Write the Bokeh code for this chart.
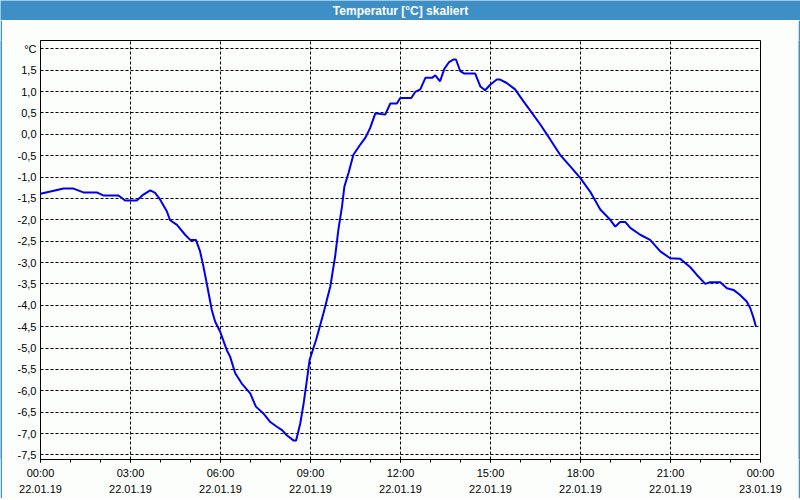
from bokeh.plotting import figure
from bokeh.models import FixedTicker
from bokeh.layouts import column, row
from bokeh.core.properties import value
from bokeh.embed import file_html
from bokeh.resources import INLINE

# --- data (hours since 22.01.19 00:00, temperature in °C) ---
hours = [0.00, 0.33, 0.77, 1.10, 1.43, 1.88, 2.09, 2.60, 2.82, 3.21, 3.43, 3.66, 3.82, 3.99,
         4.21, 4.32, 4.55, 4.82, 4.99, 5.18, 5.32, 5.43, 5.55, 5.71, 5.82, 5.99, 6.21, 6.32,
         6.49, 6.71, 6.99, 7.18, 7.43, 7.66, 7.88, 8.05, 8.21, 8.43, 8.52, 8.66, 8.77, 8.88,
         8.97, 9.19, 9.43, 9.66, 9.82, 9.93, 10.05, 10.13, 10.27, 10.43, 10.66, 10.83, 10.99,
         11.16, 11.49, 11.66, 11.88, 11.99, 12.36, 12.49, 12.66, 12.83, 13.05, 13.16, 13.32,
         13.46, 13.62, 13.77, 13.85, 13.99, 14.13, 14.49, 14.66, 14.82, 14.99, 15.21, 15.32,
         15.54, 15.82, 16.10, 16.32, 16.66, 16.99, 17.32, 17.66, 17.99, 18.32, 18.66, 18.99,
         19.16, 19.32, 19.49, 19.66, 19.99, 20.32, 20.66, 20.99, 21.32, 21.66, 21.88, 22.16,
         22.32, 22.66, 22.88, 23.10, 23.32, 23.54, 23.66, 23.77, 23.85]
temps = [-1.39, -1.34, -1.27, -1.27, -1.36, -1.36, -1.43, -1.43, -1.55, -1.55, -1.41, -1.31, -1.37, -1.53,
         -1.80, -2.01, -2.12, -2.35, -2.47, -2.47, -2.74, -3.09, -3.52, -4.11, -4.38, -4.62, -5.05, -5.20,
         -5.59, -5.83, -6.06, -6.37, -6.53, -6.73, -6.84, -6.92, -7.04, -7.16, -7.16, -6.76, -6.30, -5.75,
         -5.28, -4.80, -4.19, -3.56, -2.86, -2.23, -1.69, -1.22, -0.90, -0.48, -0.24, -0.08, 0.15,
         0.49, 0.46, 0.72, 0.72, 0.85, 0.85, 0.99, 1.05, 1.32, 1.32, 1.38, 1.24,
         1.53, 1.69, 1.75, 1.75, 1.48, 1.42, 1.42, 1.12, 1.03, 1.16, 1.28, 1.28,
         1.20, 1.05, 0.77, 0.56, 0.23, -0.12, -0.48, -0.75, -1.02, -1.34, -1.76, -2.00,
         -2.16, -2.05, -2.05, -2.19, -2.35, -2.47, -2.74, -2.90, -2.91, -3.11, -3.29, -3.50,
         -3.46, -3.46, -3.60, -3.64, -3.76, -3.91, -4.07, -4.30, -4.50]

x_ticks = [0, 3, 6, 9, 12, 15, 18, 21, 24]
x_tick_labels = ["00:00\n22.01.19", "03:00\n22.01.19", "06:00\n22.01.19", "09:00\n22.01.19",
                 "12:00\n22.01.19", "15:00\n22.01.19", "18:00\n22.01.19", "21:00\n22.01.19",
                 "00:00\n23.01.19"]
x_minor = list(range(25))
y_ticks = [2.0, 1.5, 1.0, 0.5, 0.0, -0.5, -1.0, -1.5, -2.0, -2.5, -3.0, -3.5, -4.0,
           -4.5, -5.0, -5.5, -6.0, -6.5, -7.0, -7.5]
y_tick_labels = ["°C", "1,5", "1,0", "0,5", "0,0", "-0,5", "-1,0", "-1,5", "-2,0", "-2,5",
                 "-3,0", "-3,5", "-4,0", "-4,5", "-5,0", "-5,5", "-6,0", "-6,5", "-7,0", "-7,5"]
title_text = "Temperatur [°C] skaliert"

BG = "#fcfefc"
BLUE = "#3d8fc6"
FONT = "Liberation Sans"


def strip(w, h):
    s = figure(width=w, height=h, output_backend="svg", toolbar_location=None, title=None,
               x_axis_location=None, y_axis_location=None, min_border=0,
               background_fill_color=BLUE, border_fill_color=BLUE, outline_line_color=None)
    s.grid.visible = False
    return s


# --- title bar ---
t = figure(width=800, height=20, x_range=(0, 800), y_range=(0, 20),
           output_backend="svg", toolbar_location=None, title=None,
           x_axis_location=None, y_axis_location=None, min_border=0,
           background_fill_color=BLUE, border_fill_color=BLUE, outline_line_color=None)
t.grid.visible = False
t.text(x=[400], y=[10], text=[title_text], text_align="center", text_baseline="middle",
       text_color="white", text_font=value(FONT), text_font_style="bold",
       text_font_size="12px")

# --- main chart ---
p = figure(width=796, height=478, x_range=(0, 24), y_range=(-7.607, 2.194),
           output_backend="svg", toolbar_location=None, title=None,
           min_border_left=38, min_border_right=38, min_border_top=20, min_border_bottom=38,
           background_fill_color=BG, border_fill_color=BG, outline_line_color="black")

p.xaxis.ticker = FixedTicker(ticks=x_ticks, minor_ticks=x_minor)
p.xaxis.major_label_overrides = {t_: l for t_, l in zip(x_ticks, x_tick_labels)}
p.yaxis.ticker = FixedTicker(ticks=y_ticks)
p.yaxis.major_label_overrides = {float(t_): l for t_, l in zip(y_ticks, y_tick_labels)}

for ax in (p.xaxis[0], p.yaxis[0]):
    ax.axis_line_color = "black"
    ax.major_label_text_font = FONT
    ax.major_label_text_font_size = "11px"
    ax.major_label_text_color = "black"

p.xaxis.major_tick_in = 0
p.xaxis.major_tick_out = 3
p.xaxis.minor_tick_in = 0
p.xaxis.minor_tick_out = 3
p.xaxis.major_tick_line_color = "black"
p.xaxis.minor_tick_line_color = "black"
p.xaxis.major_label_standoff = 4
p.xaxis.major_label_text_line_height = 1.4

p.yaxis.major_tick_in = 0
p.yaxis.major_tick_out = 0
p.yaxis.minor_tick_line_color = None
p.yaxis.major_label_standoff = 4

p.grid.grid_line_color = "black"
p.grid.grid_line_dash = "3 2"
p.grid.grid_line_alpha = 1.0
p.grid.grid_line_width = 1

p.line(hours, temps, line_color="#0000ee", line_width=2)

layout = column(t, row(strip(2, 478), p, strip(2, 478)), strip(800, 2))

open("out.html", "w").write(file_html(layout, INLINE))
